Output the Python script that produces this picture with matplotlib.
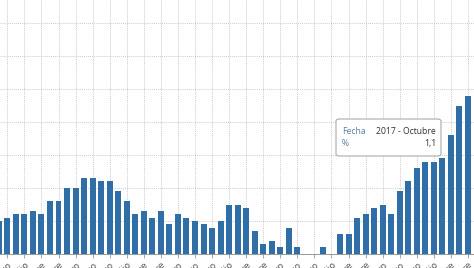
import matplotlib
matplotlib.use("Agg")
import matplotlib.pyplot as plt
from matplotlib.patches import FancyBboxPatch

MONTHS = ["Enero", "Febrero", "Marzo", "Abril", "Mayo", "Junio", "Julio",
          "Agosto", "Septiembre", "Octubre", "Noviembre", "Diciembre"]
START_YEAR = 2014
START_MONTH = 3  # index into MONTHS -> Abril

values = [1.0, 1.1, 1.2, 1.2, 1.3, 1.2, 1.6, 1.6, 2.0, 2.0,
          2.3, 2.3, 2.2, 2.2, 1.9, 1.6, 1.2, 1.3, 1.1, 1.3,
          0.9, 1.2, 1.1, 1.0, 0.9, 0.8, 1.0, 1.5, 1.5, 1.4,
          0.7, 0.3, 0.4, 0.2, 0.8, 0.2, 0.0, 0.0, 0.2, 0.0,
          0.6, 0.6, 1.1, 1.2, 1.4, 1.5, 1.2, 1.9, 2.2, 2.6,
          2.8, 2.8, 2.9, 3.6, 4.5, 4.8]

categories = []
for i in range(len(values)):
    m = START_MONTH + i
    categories.append(f"{START_YEAR + m // 12} - {MONTHS[m % 12]}")

tooltip_label = "Fecha"
tooltip_date = "2017 - Octubre"
tooltip_unit = "%"
tooltip_value = "1,1"

fig = plt.figure(figsize=(4.74, 2.68), dpi=100)
ax = fig.add_axes([0, 14 / 268, 1, 254 / 268])

x = list(range(len(values)))
ax.bar(x, values, width=0.70, color="#2f6ea6", zorder=3)

ax.set_xlim(0.14, 55.71)
ax.set_ylim(0, 7.7)

ax.set_yticks(range(1, 8))
ax.set_yticklabels([])
ax.tick_params(axis="y", length=0)

tick_pos = x[1::2]
ax.set_xticks(tick_pos)
ax.set_xticklabels([categories[i] for i in tick_pos], rotation=45, ha="right",
                   rotation_mode="anchor", fontsize=6.5, color="#555555")
ax.tick_params(axis="x", length=3, width=0.6, color="#999999", pad=2)

ax.grid(True, which="major", axis="both", color="#cccccc", linestyle=(0, (1, 1)),
        linewidth=0.7, zorder=0)

for s in ["top", "right", "left"]:
    ax.spines[s].set_visible(False)
ax.spines["bottom"].set_color("#888888")
ax.spines["bottom"].set_linewidth(0.6)

# tooltip box (figure pixel coords -> fraction)
W, H = 474, 268
box = FancyBboxPatch((336 / W, 1 - 156 / H), (441 - 336) / W, (156 - 119) / H,
                     boxstyle="round,pad=0,rounding_size=0.008",
                     transform=fig.transFigure, facecolor="white",
                     edgecolor="#aaaaaa", linewidth=0.8, zorder=10)
fig.patches.append(box)
txt_kw = dict(fontsize=6.2, va="center", family="Open Sans", zorder=11)
fig.text(342 / W, 1 - 131 / H, tooltip_label, color="#5b7fa6", ha="left", **txt_kw)
fig.text(436 / W, 1 - 131 / H, tooltip_date, color="#333333", ha="right", **txt_kw)
fig.text(342 / W, 1 - 143.5 / H, tooltip_unit, color="#5b7fa6", ha="left", **txt_kw)
fig.text(436 / W, 1 - 143.5 / H, tooltip_value, color="#333333", ha="right", **txt_kw)

fig.savefig("out.png", dpi=100)
